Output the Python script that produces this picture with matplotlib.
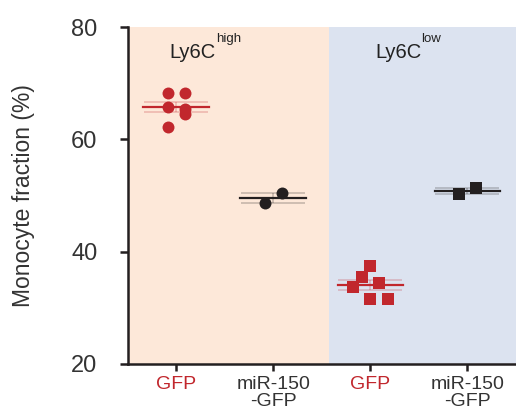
import numpy as np
import matplotlib.pyplot as plt

plt.rcParams['font.family'] = ['Liberation Sans', 'DejaVu Sans']

# monocyte fraction (%) per mouse
high_gfp = [68.2, 68.2, 65.7, 65.5, 64.6, 62.3]
high_mir = [48.75, 50.4]
low_gfp = [37.5, 35.5, 34.5, 33.75, 31.6, 31.6]
low_mir = [50.2, 51.4]

tick_labels = ['GFP', 'miR-150\n-GFP', 'GFP', 'miR-150\n-GFP']
groups = ['high', 'low']

red = '#c1272d'
black = '#231f20'
grey_text = '#333333'

# horizontal spread of the dots inside each column
offsets_high_gfp = [-0.09, 0.09, -0.09, 0.09, 0.09, -0.09]
offsets_pair = [-0.09, 0.09]
offsets_low_gfp = [0.0, -0.09, 0.09, -0.18, 0.0, 0.18]

series = [
  (0, high_gfp, offsets_high_gfp, red, 'o'),
  (1, high_mir, offsets_pair, black, 'o'),
  (2, low_gfp, offsets_low_gfp, red, 's'),
  (3, low_mir, offsets_pair, black, 's'),
]

fig = plt.figure(figsize=(5.16, 4.13), dpi=100)
ax = fig.add_axes([0.248, 0.119, 0.752, 0.815])

ax.axvspan(-0.5, 1.57, color='#fde8d9', lw=0, zorder=0)
ax.axvspan(1.57, 3.5, color='#dce3f0', lw=0, zorder=0)

for x, vals, offs, col, mk in series:
  vals = np.array(vals)
  mean = vals.mean()
  sem = vals.std(ddof=1) / np.sqrt(len(vals))
  ax.errorbar(x, mean, yerr=sem, fmt='none', ecolor=col, alpha=0.25,
              elinewidth=1.2, capsize=23, capthick=1.2, zorder=2)
  ax.plot([x - 0.34, x + 0.34], [mean, mean], color=col, lw=1.6, zorder=3)
  ax.plot(x + np.array(offs), vals, linestyle='none', marker=mk,
          color=col, markersize=9 if mk == 's' else 8.6, mew=0, zorder=4)

ax.set_xlim(-0.5, 3.5)
ax.set_ylim(20, 80)
ax.set_yticks([20, 40, 60, 80])
ax.set_xticks([0, 1, 2, 3])
ax.set_xticklabels(tick_labels, fontsize=14, linespacing=0.95)
ax.tick_params(axis='y', labelsize=17, length=6, width=1.8, pad=16,
               color=black, labelcolor=grey_text)
ax.tick_params(axis='x', length=5, width=1.8, pad=4, color=black)
for lbl, col in zip(ax.get_xticklabels(), [red, grey_text, red, grey_text]):
  lbl.set_color(col)

ax.set_ylabel('Monocyte fraction (%)', fontsize=16.5, color=grey_text, labelpad=26)

ax.spines['top'].set_visible(False)
ax.spines['right'].set_visible(False)
ax.spines['left'].set_linewidth(1.8)
ax.spines['bottom'].set_linewidth(1.8)
ax.spines['left'].set_color(black)
ax.spines['bottom'].set_color(black)

# group headers
for x0, name in zip([-0.07, 2.05], groups):
  t = ax.text(x0, 74.6, 'Ly6C', fontsize=14.5, color='#222222', ha='left', va='baseline')
  ax.annotate(name, xy=(1, 74.6), xycoords=(t, 'data'), xytext=(0, 11.5),
              textcoords='offset points', fontsize=9.5, color='#222222',
              ha='left', va='baseline')

fig.savefig('out.png', dpi=100)
